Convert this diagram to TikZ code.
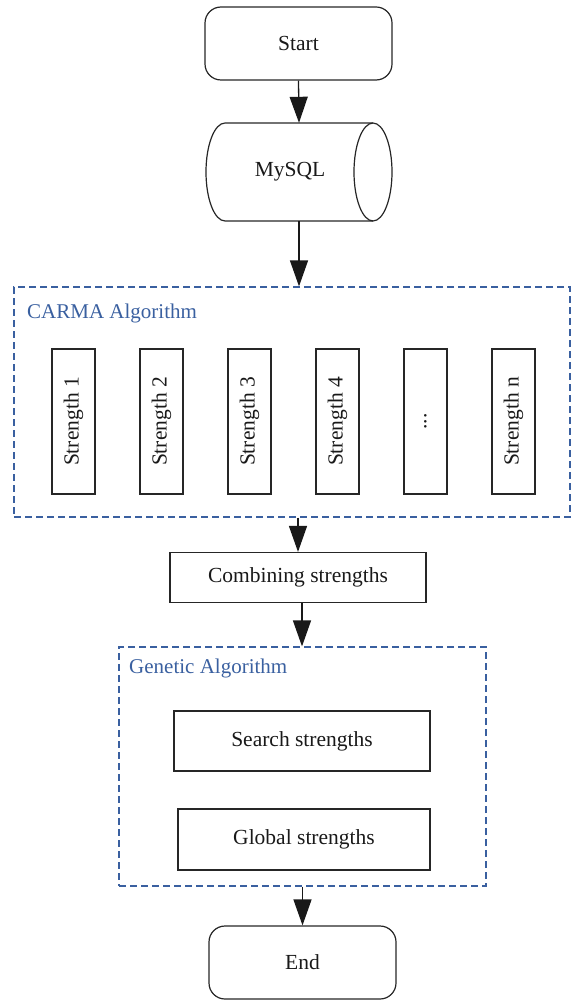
\documentclass[tikz,border=0pt]{standalone}
\usepackage{fontspec}
\setmainfont{Liberation Serif}
\usepackage{graphicx}
\usetikzlibrary{arrows.meta}
\definecolor{gablue}{RGB}{58,96,160}
\tikzset{
  box/.style={draw=black!85, line width=1.2pt, inner sep=0pt, rectangle, font=\fontsize{21.5}{25}\selectfont, text=black!90},
  term/.style={box, rounded corners=16pt},
  group/.style={draw=gablue, line width=1.2pt, dash pattern=on 7pt off 4pt, inner sep=0pt, rectangle},
  grouplabel/.style={anchor=base west, inner sep=0pt, text=gablue, font=\fontsize{21}{25}\selectfont},
  flow/.style={draw=black!90, line width=1.3pt, -{Triangle[length=26pt,width=18pt]}},
  vbox/.style={box, minimum width=43pt, minimum height=145pt},
}
\begin{document}
\begin{tikzpicture}[x=1pt,y=-1pt]
\useasboundingbox (0,0) rectangle (572,1000);
% Start
\node[term, minimum width=187pt, minimum height=73pt] (start) at (298.5,43.5) {Start};
% MySQL cylinder
\node[inner sep=0pt, minimum width=186pt, minimum height=98pt] (db) at (299,172) {};
\draw[draw=black!85, line width=1.2pt] (225,123) -- (373,123)
  arc[start angle=90, end angle=-90, x radius=19pt, y radius=49pt] -- (225,221)
  arc[start angle=270, end angle=90, x radius=19pt, y radius=49pt] -- cycle;
\draw[draw=black!85, line width=1.2pt] (373,123) arc[start angle=90, end angle=270, x radius=19pt, y radius=49pt];
\node[inner sep=0pt, font=\fontsize{21.5}{25}\selectfont, text=black!90] (dbl) at (290,172) {MySQL};
% CARMA group
\node[group, minimum width=556pt, minimum height=230pt] (carma) at (292,402) {};
\node[grouplabel] (carmal) at (27,318) {CARMA Algorithm};
\node[vbox] (s1) at (73.5,421.5) {\rotatebox{90}{Strength 1}};
\node[vbox] (s2) at (161.5,421.5) {\rotatebox{90}{Strength 2}};
\node[vbox] (s3) at (249.5,421.5) {\rotatebox{90}{Strength 3}};
\node[vbox] (s4) at (337.5,421.5) {\rotatebox{90}{Strength 4}};
\node[vbox] (s5) at (425.5,421.5) {\rotatebox{90}{...}};
\node[vbox] (sn) at (513.5,421.5) {\rotatebox{90}{Strength n}};
% Combining
\node[box, minimum width=256pt, minimum height=50pt] (comb) at (298,577.5) {Combining strengths};
% Genetic group
\node[group, minimum width=367pt, minimum height=239pt] (ga) at (302.5,766.5) {};
\node[grouplabel] (gal) at (129,673) {Genetic Algorithm};
\node[box, minimum width=256pt, minimum height=60pt] (search) at (302,741) {Search strengths};
\node[box, minimum width=252pt, minimum height=61pt] (global) at (304,839.5) {Global strengths};
% End
\node[term, minimum width=187pt, minimum height=73pt] (end) at (302.5,962.5) {End};
% connectors
\draw[flow] (start.south) -- (db.north);
\draw[flow] (db.south) -- (db.south |- carma.north);
\draw[flow] (carma.south -| comb.north) -- (comb.north);
\coordinate (combout) at ([xshift=4pt]comb.south);
\draw[flow] (combout) -- (combout |- ga.north);
\draw[flow] (ga.south -| end.north) -- (end.north);
\end{tikzpicture}
\end{document}
